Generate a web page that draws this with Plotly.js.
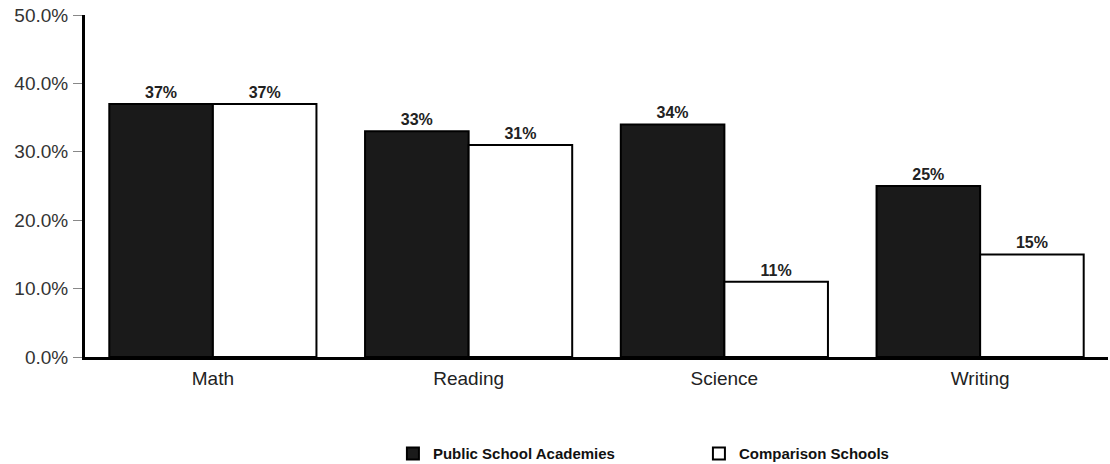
<!DOCTYPE html>
<html><head><meta charset="utf-8">
<script src="https://cdn.plot.ly/plotly-3.0.1.min.js"></script>
<style>body{margin:0;background:#fff}#chart{width:1110px;height:464px}</style>
</head><body><div id="chart"></div>
<script>
const categories = ["Math", "Reading", "Science", "Writing"];
const psaValues = [0.37, 0.33, 0.34, 0.25];
const compValues = [0.37, 0.31, 0.11, 0.15];
const seriesNames = ["Public School Academies", "Comparison Schools"];
const yTickVals = [0, 0.1, 0.2, 0.3, 0.4, 0.5];

const common = {
  type: 'bar', x: categories,
  texttemplate: '%{y:.0%}', textposition: 'outside', cliponaxis: false,
  textfont: {family: 'Liberation Sans, Arial, sans-serif', size: 16, color: '#222', weight: 'bold'},
  hoverinfo: 'skip'
};
const traces = [
  Object.assign({}, common, {name: seriesNames[0], y: psaValues,
    marker: {color: '#1a1a1a', line: {color: '#000', width: 2}}}),
  Object.assign({}, common, {name: seriesNames[1], y: compValues,
    marker: {color: '#ffffff', line: {color: '#000', width: 2}}})
];
const layout = {
  width: 1110, height: 464,
  margin: {l: 85, r: 2, t: 15, b: 107, autoexpand: false},
  paper_bgcolor: '#fff', plot_bgcolor: '#fff',
  barmode: 'group', bargap: 0.19, bargroupgap: 0,
  font: {family: 'Liberation Sans, Arial, sans-serif', color: '#333'},
  xaxis: {showline: true, linecolor: '#000', linewidth: 3, ticks: '', showgrid: false,
    tickfont: {size: 19, color: '#222'}, zeroline: false, ticklabelstandoff: 2},
  yaxis: {range: [0, 0.5], tickvals: yTickVals, tickformat: '.1%', showgrid: false, zeroline: false,
    showline: true, linecolor: '#000', linewidth: 3, ticks: 'outside', ticklen: 9, tickcolor: '#888',
    tickfont: {size: 19, color: '#333'}, ticklabelstandoff: 1},
  showlegend: true,
  legend: {orientation: 'h', x: 0.301, xanchor: 'left', y: -0.235, yanchor: 'top',
    font: {size: 15, color: '#111', weight: 'bold'}, itemwidth: 30, tracegroupgap: 0,
    entrywidth: 261, entrywidthmode: 'pixels'}
};
Plotly.newPlot('chart', traces, layout, {displayModeBar: false, staticPlot: true});
</script></body></html>
